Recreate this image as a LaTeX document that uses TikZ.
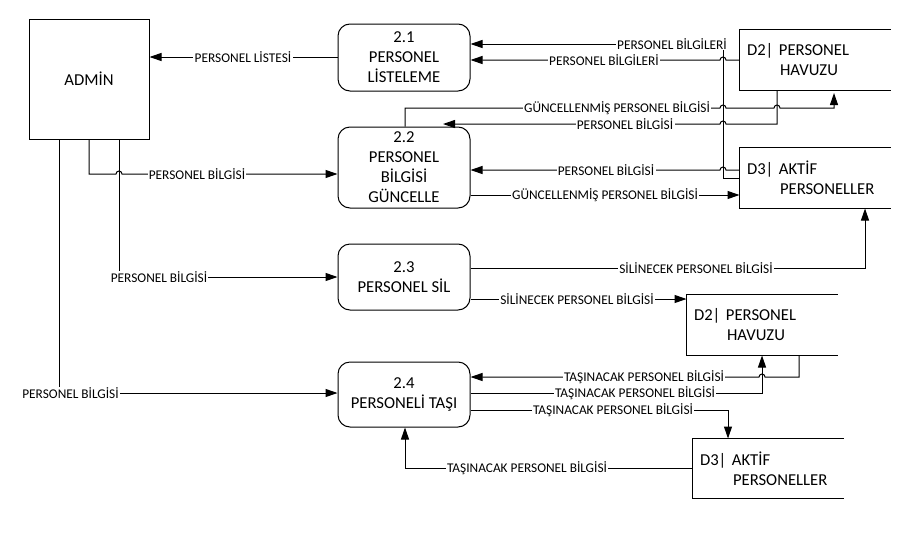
\documentclass[tikz,border=0pt]{standalone}
\usepackage{fontspec}
\setmainfont{Carlito}
\usetikzlibrary{arrows.meta}
\begin{document}
\begin{tikzpicture}[x=0.75pt,y=-0.75pt,line width=0.75pt,
  flow/.style={draw,-{Triangle[length=9pt,width=6pt]}},
  boxfont/.style={font=\fontsize{12.5}{15}\selectfont},
  proc/.style={draw,rounded corners=9pt,align=center,boxfont,inner sep=0pt,minimum width=99pt},
  ent/.style={draw,align=center,boxfont,minimum width=90pt,minimum height=90pt},
  store/.style={minimum width=112.5pt,minimum height=45pt,inner xsep=5.25pt,text width=102pt,align=left,boxfont},
  lbl/.style={fill=white,inner xsep=1pt,inner ysep=0.5pt,font=\fontsize{10}{12}\selectfont}]
\useasboundingbox (0,0) rectangle (923,539);

% entities and processes
\node[ent] (admin) at (89,79) {ADMİN};
\node[proc,minimum height=50.25pt] (p21) at (404,57.5) {2.1\\PERSONEL\\LİSTELEME};
\node[proc,minimum height=60.75pt] (p22) at (404,167.5) {2.2\\PERSONEL\\BİLGİSİ\\GÜNCELLE};
\node[proc,minimum height=49.5pt] (p23) at (404,277) {2.3\\PERSONEL SİL};
\node[proc,minimum height=48.75pt] (p24) at (404,394.5) {2.4\\PERSONELİ TAŞI};

% data stores
\node[store] (d2a) at (815,60) {D2| PERSONEL\\\hspace*{24.75pt}HAVUZU};
\node[store] (d3a) at (815,178) {D3| AKTİF\\\hspace*{24.75pt}PERSONELLER};
\node[store] (d2b) at (762,325) {D2| PERSONEL\\\hspace*{24.75pt}HAVUZU};
\node[store,minimum height=44.25pt] (d3b) at (768,468.5) {D3| AKTİF\\\hspace*{24.75pt}PERSONELLER};
\foreach \s in {d2a,d3a,d2b,d3b}
  \draw (\s.north east) -- (\s.north west) -- (\s.south west) -- (\s.south east);

% connectors
\draw[flow] (p21.west |- 0,57) -- (admin.east |- 0,57);
\draw[flow] (d3a.west) -- (723,178) -- (723,44) -- (p21.east |- 0,44);
\draw[flow] (d2a.west |- 0,60) -- (726,60) arc[start angle=0,end angle=180,radius=2.25pt] -- (p21.east |- 0,60);
\draw[flow] (405,0 |- p22.north) -- (405,108) -- (720,108) arc[start angle=180,end angle=0,radius=2.25pt]
   -- (774,108) arc[start angle=180,end angle=0,radius=2.25pt] -- (834,108) -- (834,93);
\draw[flow] (777,0 |- d2a.south) -- (777,124) -- (726,124) arc[start angle=0,end angle=180,radius=2.25pt] -- (443,124);
\draw[flow] (d3a.west |- 0,170) -- (726,170) arc[start angle=0,end angle=180,radius=2.25pt] -- (p22.east |- 0,170);
\draw[flow] (p22.east |- 0,195) -- (d3a.west |- 0,195);
\draw[flow] (89,0 |- admin.south) -- (89,174) -- (116,174) arc[start angle=180,end angle=0,radius=2.25pt] -- (p22.west |- 0,174);
\draw[flow] (119,0 |- admin.south) -- (119,277) -- (p23.west |- 0,277);
\draw[flow] (59,0 |- admin.south) -- (59,393) -- (p24.west |- 0,393);
\draw[flow] (p23.east |- 0,268) -- (865,268) -- (865,0 |- d3a.south);
\draw[flow] (p23.east |- 0,299) -- (d2b.west |- 0,299);
\draw[flow] (799,0 |- d2b.south) -- (799,377) -- (765,377) arc[start angle=0,end angle=180,radius=2.25pt] -- (p24.east |- 0,377);
\draw[flow] (p24.east |- 0,393) -- (762,393) -- (762,0 |- d2b.south);
\draw[flow] (p24.east |- 0,410) -- (728,410) -- (728,0 |- d3b.north);
\draw[flow] (d3b.west) -- (405,468.5) -- (405,0 |- p24.south);

% labels
\node[lbl] (l1) at (243,57) {PERSONEL LİSTESİ};
\node[lbl] (l2) at (672,44) {PERSONEL BİLGİLERİ};
\node[lbl] (l3) at (604,60) {PERSONEL BİLGİLERİ};
\node[lbl] (l4) at (617,108) {GÜNCELLENMİŞ PERSONEL BİLGİSİ};
\node[lbl] (l5) at (625,124) {PERSONEL BİLGİSİ};
\node[lbl] (l6) at (606,170) {PERSONEL BİLGİSİ};
\node[lbl] (l7) at (605,195) {GÜNCELLENMİŞ PERSONEL BİLGİSİ};
\node[lbl] (l8) at (197,174) {PERSONEL BİLGİSİ};
\node[lbl] (l9) at (159,277) {PERSONEL BİLGİSİ};
\node[lbl] (l10) at (70.5,393) {PERSONEL BİLGİSİ};
\node[lbl] (l11) at (696,268) {SİLİNECEK PERSONEL BİLGİSİ};
\node[lbl] (l12) at (577,299) {SİLİNECEK PERSONEL BİLGİSİ};
\node[lbl] (l13) at (644,377) {TAŞINACAK PERSONEL BİLGİSİ};
\node[lbl] (l14) at (635,393) {TAŞINACAK PERSONEL BİLGİSİ};
\node[lbl] (l15) at (613,410) {TAŞINACAK PERSONEL BİLGİSİ};
\node[lbl] (l16) at (527,468.5) {TAŞINACAK PERSONEL BİLGİSİ};
\end{tikzpicture}
\end{document}
